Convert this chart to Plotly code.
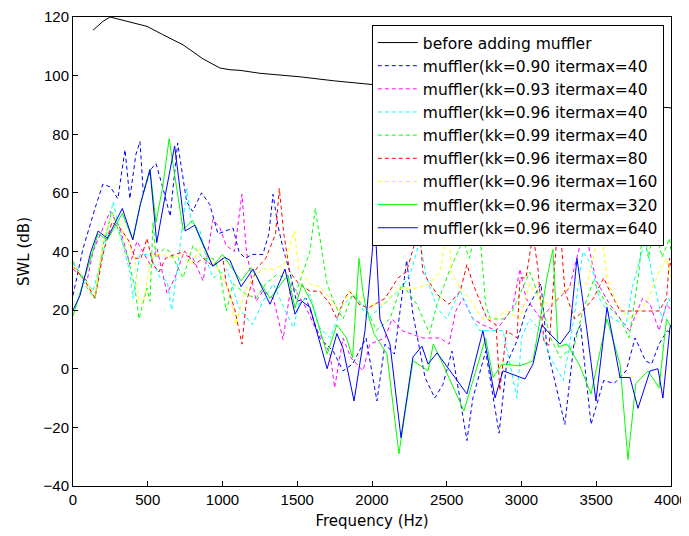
import plotly.graph_objects as go

# SWL spectra (frequency in Hz, level in dB)
f_before = [134, 200, 248, 300, 400, 495, 600, 736, 870, 983, 1050, 1117, 1250, 1518, 1750, 2000, 2400, 2800, 3200, 3600, 3950, 4000]
swl_before = [115.5, 118.5, 120, 119.3, 118, 116.8, 114, 110.5, 105.7, 102.6, 102, 101.8, 100.8, 99.6, 98.2, 97, 95, 93.5, 92, 90.5, 89.2, 89]

f_k090 = [0, 67, 147, 200, 250, 300, 348, 380, 420, 448, 470, 520, 555, 600, 650, 700, 760, 800, 860, 915, 970, 1070, 1110, 1150, 1200, 1270, 1310, 1338, 1370, 1405, 1450, 1495, 1560, 1650, 1740, 1806, 1870, 1960, 2033, 2087, 2150, 2232, 2274, 2355, 2420, 2475, 2535, 2635, 2675, 2760, 2850, 2900, 2970, 3030, 3130, 3170, 3290, 3355, 3395, 3465, 3550, 3620, 3700, 3760, 3830, 3870, 3920, 3975, 4000]
swl_k090 = [25, 41, 54.7, 63, 62, 58, 74.7, 58, 73, 77.5, 60, 68, 70, 62, 52, 77, 57, 53.7, 60, 56, 46, 48, 40, 37.7, 39, 39, 46, 59.5, 49, 41, 33, 23, 24, 10.5, 6, -0.7, 1.6, 10.5, -11, 8.4, 5, 37, 18.6, -3, -10, -5.3, 6, -24.5, -10, 6, -22, 1.6, 9.5, 19.7, 29, 7.4, -19, 10.5, 15, -19, -4, -5, -0.7, 10.5, 2.7, 1.6, 8.4, 13, 12]

f_k093 = [0, 94, 134, 248, 314, 381, 428, 468, 515, 562, 629, 682, 736, 803, 870, 936, 983, 1025, 1080, 1130, 1160, 1225, 1270, 1340, 1405, 1460, 1560, 1620, 1665, 1720, 1750, 1806, 1860, 1940, 1985, 2087, 2134, 2200, 2340, 2455, 2515, 2560, 2608, 2675, 2740, 2830, 2940, 2990, 3030, 3130, 3210, 3320, 3410, 3430, 3500, 3590, 3720, 3810, 3860, 3920, 3970, 4000]
swl_k093 = [34, 30, 40, 53.7, 48, 35.6, 43.5, 40, 35.6, 41, 25.8, 31, 39, 37.7, 30, 51, 48, 42, 40, 59.5, 40, 23, 26.5, 24, 10, 29, 20.7, 14, 10.5, 5, -6.5, 10.5, 3.7, -0.7, 8.4, 10.5, 17, 13, 10.5, 10.5, 8.4, 19.7, 24, 17, 15, 13, 20.7, 34, 24, 17, 22, 27.5, 46, 46, 30, 22, 13, 24, 22, 13, 22, 20]

f_k096 = [0, 134, 200, 268, 335, 381, 401, 448, 515, 582, 629, 660, 700, 762, 790, 850, 896, 936, 1030, 1110, 1200, 1270, 1340, 1420, 1475, 1510, 1585, 1650, 1720, 1806, 1890, 1970, 2053, 2120, 2200, 2260, 2320, 2360, 2435, 2500, 2590, 2675, 2720, 2876, 2970, 3000, 3055, 3130, 3195, 3280, 3355, 3410, 3465, 3520, 3610, 3700, 3740, 3830, 3870, 3940, 3985, 4000]
swl_k096 = [36, 26.5, 39, 57, 42, 33, 24, 39, 39, 31, 30, 20, 35, 61.5, 50, 47, 36.7, 31, 34, 20.7, 15, 23, 29, 19.7, 14, 22, 25.4, 14, 10.5, 22, 25.4, 17, 20.7, 24, 27.5, 33, 43.5, 32, 20.7, 17, 26.5, 17, 13, 13, -10, 10.5, 17, 13, 3.7, -4, 18.6, 40, 35.6, 24, 17, 15, 27.5, 44.5, 33, 17, 24, 22]

f_k099 = [0, 94, 147, 200, 260, 328, 368, 415, 441, 495, 515, 535, 555, 609, 650, 736, 803, 870, 936, 983, 1025, 1070, 1160, 1225, 1290, 1360, 1430, 1495, 1585, 1620, 1665, 1700, 1750, 1806, 1870, 1960, 2030, 2120, 2200, 2300, 2385, 2435, 2515, 2610, 2650, 2715, 2760, 2790, 2876, 2940, 3055, 3130, 3195, 3260, 3355, 3410, 3480, 3570, 3660, 3720, 3785, 3810, 3850, 3890, 3940, 3990, 4000]
swl_k099 = [36.7, 27.5, 24, 42, 53.7, 43.5, 37.7, 27.5, 17, 27.5, 23, 50, 37.7, 41, 40, 31, 42, 37.7, 37.7, 33, 19.7, 29, 25.4, 24, 29, 32, 31, 26.5, 40, 54.7, 40, 29, 22, 17, 25.4, 20.7, 13, 17, 29, 22, 12, 22, 33, 44, 37.7, 50, 22, 17, 17, 19.7, 33, 23, 10.5, 3.7, 8.4, 19.7, 30, 22, 17, 10.5, 33, 47, 37.7, 50, 38, 44.5, 40]

f_i80 = [0, 80, 147, 200, 260, 315, 375, 415, 455, 495, 535, 575, 620, 680, 750, 815, 870, 936, 1003, 1025, 1080, 1130, 1160, 1225, 1290, 1355, 1380, 1410, 1450, 1510, 1585, 1650, 1720, 1765, 1806, 1850, 1913, 1975, 2087, 2174, 2230, 2290, 2310, 2340, 2435, 2515, 2590, 2635, 2675, 2770, 2830, 2855, 2900, 2970, 2990, 3030, 3077, 3110, 3150, 3185, 3215, 3250, 3290, 3355, 3410, 3480, 3550, 3590, 3660, 3745, 3830, 3920, 3970, 3990, 4000]
swl_i80 = [35, 30, 24, 39, 50, 48, 43.5, 37.7, 37.7, 44.5, 35.6, 33, 37.7, 39, 40, 35.6, 37.7, 35, 37.7, 29, 20.7, 8.4, 23, 34, 37.7, 46, 61.5, 46, 33, 29, 26.5, 26.5, 22, 17, 23, 26.5, 22, 20.7, 24, 31, 33, 43.5, 55, 33, 25.4, 22, 26.5, 35.6, 29, 17, 15, -7.5, 13, 10.5, 31, 31, 46, 34, 9.5, 8, 30, 55, 26.5, 17, 19.7, 24, 31, 26.5, 19.7, 19.7, 19.7, 19.7, 24, 37.7, 35]

f_i160 = [0, 80, 147, 200, 260, 315, 375, 415, 440, 468, 515, 540, 600, 670, 730, 790, 850, 915, 983, 1050, 1090, 1140, 1200, 1270, 1340, 1410, 1480, 1510, 1585, 1650, 1720, 1785, 1850, 1940, 1995, 2087, 2174, 2300, 2385, 2455, 2490, 2510, 2530, 2590, 2650, 2740, 2810, 2900, 2990, 3055, 3130, 3210, 3280, 3355, 3440, 3500, 3520, 3570, 3640, 3720, 3785, 3850, 3920, 3970, 4000]
swl_i160 = [35, 31, 25, 43, 53, 49, 42, 37, 23, 22, 35.6, 39, 39, 37.7, 39, 35.6, 41, 38, 33, 25.4, 15, 25, 31, 34, 34, 35.6, 47, 34, 29, 28, 24, 19.7, 26.5, 24, 22, 22, 27.5, 27.5, 29, 33, 43.5, 55, 33, 27.5, 24, 17, 17, 19.7, 17, 29, 23, 22, 26.5, 29, 29, 42.4, 55, 31, 22, 17, 19.7, 24, 33, 37.7, 31]

f_i320 = [0, 60, 120, 168, 230, 330, 400, 450, 515, 555, 600, 643, 736, 800, 870, 935, 1000, 1124, 1190, 1318, 1438, 1485, 1532, 1600, 1700, 1765, 1830, 1870, 1913, 1940, 1960, 2013, 2100, 2180, 2274, 2375, 2410, 2455, 2615, 2760, 2810, 2870, 2990, 3077, 3125, 3170, 3210, 3245, 3304, 3385, 3465, 3572, 3659, 3712, 3765, 3846, 3920, 3970, 4000]
swl_i320 = [18, 28, 38, 46, 44, 53, 44, 56, 68, 50, 62, 78.5, 47.5, 50.6, 42, 35, 39, 30, 34.5, 24, 32, 20.7, 29, 22, 5, 15, 10.5, 3.7, 37.7, 26, 20.7, 12, 5, -29, 2.7, -0.7, 8.4, 3.7, -14.4, 10.5, -3, 1.6, 1, 2.7, 17, 31, 40.7, 7.4, 8.4, 1.6, -8.6, 17, 1.6, -31, -5, -0.7, -6.5, 17, 14]

f_i640 = [0, 47, 120, 168, 230, 330, 400, 450, 515, 560, 620, 680, 750, 815, 935, 1015, 1050, 1124, 1204, 1318, 1418, 1485, 1532, 1585, 1700, 1765, 1806, 1880, 1953, 2020, 2053, 2120, 2194, 2274, 2334, 2375, 2435, 2540, 2635, 2742, 2823, 2876, 2950, 3023, 3077, 3137, 3170, 3257, 3324, 3371, 3438, 3498, 3572, 3659, 3726, 3779, 3860, 3913, 3946, 3993, 4000]
swl_i640 = [20, 25, 40, 47, 44.5, 54.7, 44, 56, 68, 43, 60, 76, 47, 49, 35, 38, 37, 28, 34, 22, 34, 18.6, 23, 21, 0, 12, 7, -11, 13, 50, 17, 8.5, -23.5, 4, 7.7, 1.6, 5.4, -2, -8.6, 13, -10, -0.7, -2, -3.5, 1.6, 15, 13, 8.4, 13, 37.7, 13, -11, 21, -3, -3, -13.5, -0.7, 0, -10, 14, 15]

series = [
    ("before adding muffler", f_before, swl_before, "black", "solid"),
    ("muffler(kk=0.90 itermax=40", f_k090, swl_k090, "#0000ff", "4px,3px"),
    ("muffler(kk=0.93 itermax=40", f_k093, swl_k093, "#ff00ff", "4px,3px"),
    ("muffler(kk=0.96 itermax=40", f_k096, swl_k096, "#00ffff", "4px,3px"),
    ("muffler(kk=0.99 itermax=40", f_k099, swl_k099, "#00ff00", "4px,3px"),
    ("muffler(kk=0.96 itermax=80", f_i80, swl_i80, "#ff0000", "4px,3px"),
    ("muffler(kk=0.96 itermax=160", f_i160, swl_i160, "#ffff00", "4px,3px"),
    ("muffler(kk=0.96 itermax=320", f_i320, swl_i320, "#00ff00", "solid"),
    ("muffler(kk=0.96 itermax=640", f_i640, swl_i640, "#0000ff", "solid"),
]

fig = go.Figure()
for name, f, v, col, dash in series:
    fig.add_trace(go.Scatter(x=f, y=v, mode="lines", name=name,
                             line=dict(color=col, width=1, dash=dash)))

tick_font = dict(family="Arial, Liberation Sans, sans-serif", size=15, color="black")
text_font = dict(family="DejaVu Sans, sans-serif", size=15, color="black")
axis_style = dict(showline=True, mirror=True, linecolor="black", linewidth=1,
                  ticks="inside", ticklen=5, tickcolor="black", showgrid=False,
                  zeroline=False, automargin=False, ticklabeloverflow="allow",
                  tickfont=tick_font)

fig.update_xaxes(range=[0, 4000], tickvals=list(range(0, 4001, 500)),
                 title=dict(text="Frequency (Hz)", font=text_font, standoff=8),
                 **axis_style)
fig.update_yaxes(range=[-40, 120], tickvals=list(range(-40, 121, 20)),
                 title=dict(text="SWL (dB)", font=text_font, standoff=10),
                 **axis_style)

# the page body adds an 8px margin, so the figure is 8px smaller than the window
fig.update_layout(
    width=681, height=528,
    margin=dict(l=65, r=18, t=9, b=50),
    plot_bgcolor="white", paper_bgcolor="white",
    legend=dict(x=0.988, y=0.983, xanchor="right", yanchor="top",
                bgcolor="white", bordercolor="black", borderwidth=1,
                itemwidth=40, font=dict(family="DejaVu Sans, sans-serif", size=15.5, color="black"),
                tracegroupgap=0),
    showlegend=True,
)

fig.write_html("out.html")
